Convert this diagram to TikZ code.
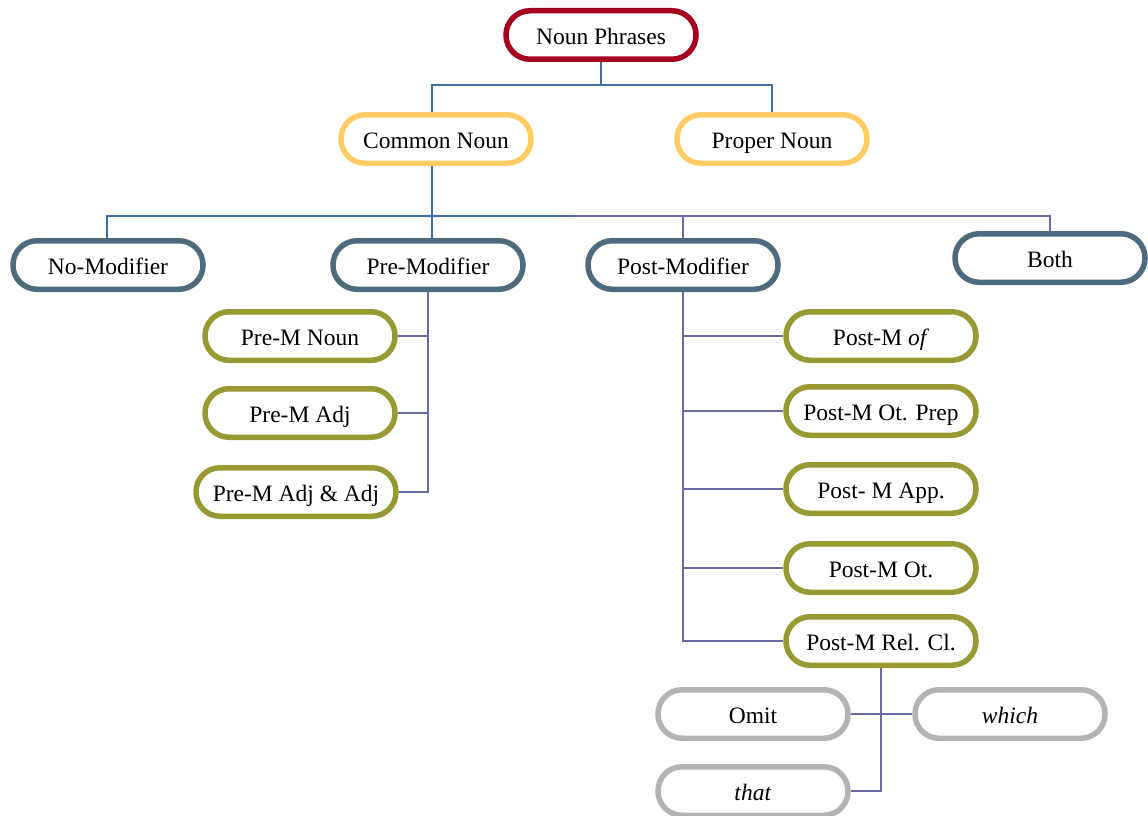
\documentclass[tikz,border=0pt]{standalone}
\usepackage{fontspec}
\setmainfont{Liberation Serif}

\definecolor{rootc}{HTML}{A50021}
\definecolor{nounc}{HTML}{FFCC66}
\definecolor{modc}{HTML}{4E6B7E}
\definecolor{subc}{HTML}{999933}
\definecolor{relc}{HTML}{B3B3B3}
\definecolor{bluel}{HTML}{3E6EA3}
\definecolor{purpl}{HTML}{6A6AA8}

\begin{document}
\begin{tikzpicture}[x=1pt,y=-1pt,
  box/.style={draw, line width=5.5pt, fill=white, rounded corners=24pt,
    minimum width=190pt, minimum height=48.5pt, inner sep=0pt,
    text height=22pt, text depth=3pt,
    font=\fontsize{23.5}{28}\selectfont},
  rootbox/.style={box, draw=rootc},
  nounbox/.style={box, draw=nounc},
  modbox/.style={box, draw=modc},
  subbox/.style={box, draw=subc},
  relbox/.style={box, draw=relc},
  blueln/.style={draw=bluel, line width=1.8pt},
  purpln/.style={draw=purpl, line width=1.6pt}]
\useasboundingbox (0,0) rectangle (1148,816);

% top levels
\node[rootbox] (np) at (601,35) {Noun Phrases};
\node[nounbox] (cn) at (436,139) {Common Noun};
\node[nounbox] (pn) at (772,139) {Proper Noun};

% modifier types
\node[modbox] (nomod) at (108,265) {No-Modifier};
\node[modbox] (premod) at (428,265) {Pre-Modifier};
\node[modbox] (postmod) at (683,265) {Post-Modifier};
\node[modbox] (both) at (1050,258) {Both};

% pre-modifiers
\node[subbox] (pmn) at (300,336) {Pre-M Noun};
\node[subbox] (pma) at (300,413) {Pre-M Adj};
\node[subbox, minimum width=200pt] (pmaa) at (296,492) {Pre-M Adj \& Adj};

% post-modifiers
\node[subbox] (pof) at (881,336) {Post-M \textit{of}};
\node[subbox] (pop) at (881,411) {Post-M Ot. Prep};
\node[subbox] (poa) at (881,489) {Post- M App.};
\node[subbox] (pot) at (881,568) {Post-M Ot.};
\node[subbox] (prc) at (881,641) {Post-M Rel. Cl.};

% relative clause markers
\node[relbox] (omit) at (753,714) {Omit};
\node[relbox] (which) at (1010,714) {\textit{which}};
\node[relbox] (that) at (753,791) {\textit{that}};

% connectors
\coordinate (jt) at (601,85);
\coordinate (jc) at (432,85);
\coordinate (jl) at (107,216);
\coordinate (jm) at (618,216);
\coordinate (jn) at (570,216);

\draw[blueln] (np.south) -- (jt) -- (jc) -- (jc |- cn.north);
\draw[blueln] (jt) -| (pn.north);

\draw[blueln] (cn.south -| jc) -- (jc |- jl);
\draw[blueln] (nomod.north -| jl) |- (jm);
\draw[blueln] (premod.north -| jc) -- (jc |- jl);
\draw[purpln] (jn) -| (both.north);
\draw[purpln] (postmod.north) -- (postmod.north |- jl);

\draw[purpln] (premod.south) |- (pmn.east);
\draw[purpln] (premod.south) |- (pma.east);
\draw[purpln] (premod.south) |- (pmaa.east);

\draw[purpln] (postmod.south) |- (pof.west);
\draw[purpln] (postmod.south) |- (pop.west);
\draw[purpln] (postmod.south) |- (poa.west);
\draw[purpln] (postmod.south) |- (pot.west);
\draw[purpln] (postmod.south) |- (prc.west);

\draw[purpln] (prc.south) |- (that.east);
\draw[purpln] (omit.east) -- (which.west);
\end{tikzpicture}
\end{document}
